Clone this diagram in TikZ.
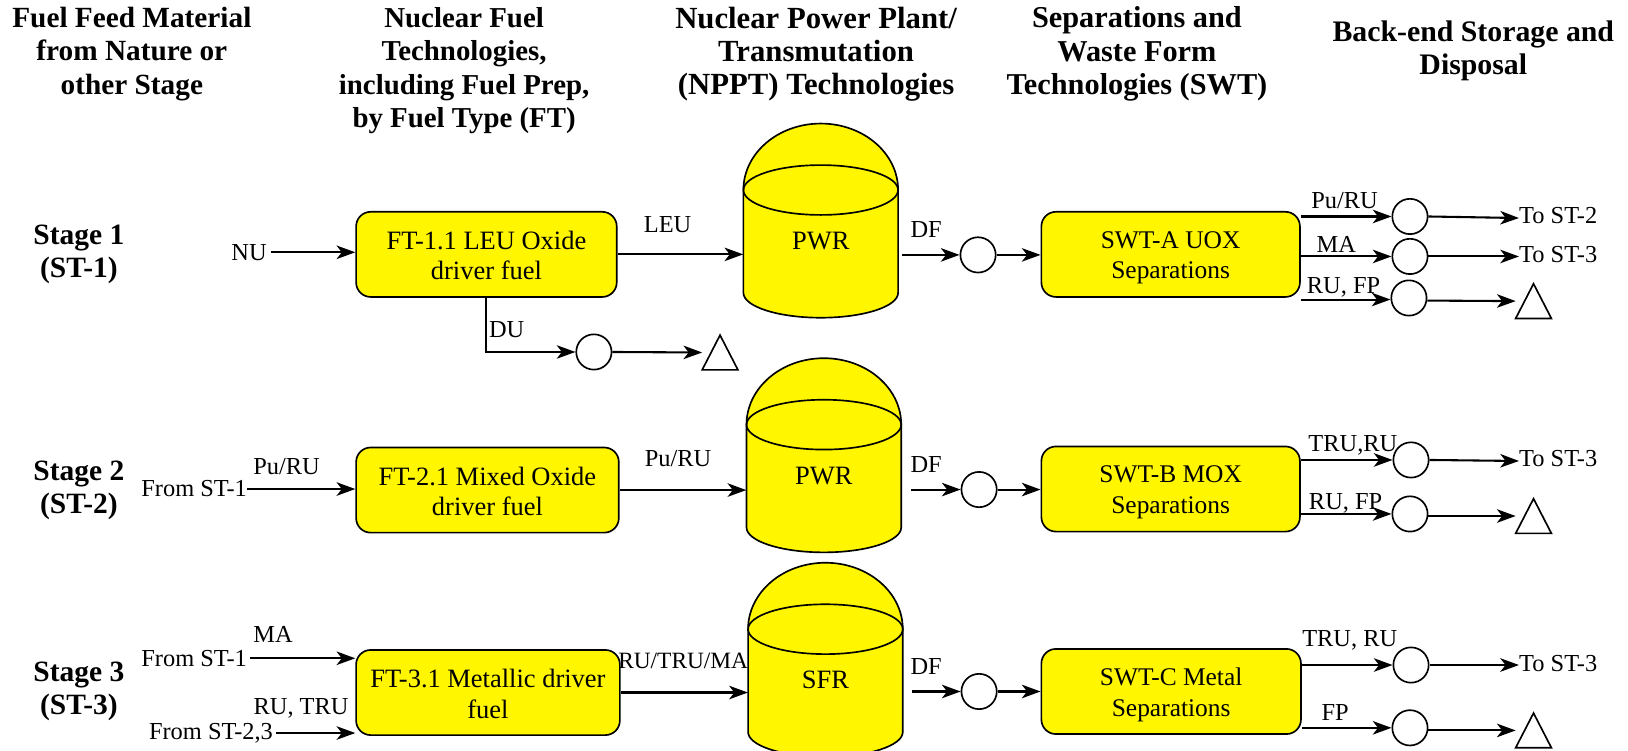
\documentclass[tikz,border=0pt]{standalone}
\usepackage{fontspec}
\setmainfont{Liberation Serif}
\usetikzlibrary{arrows.meta}
\definecolor{fuel}{HTML}{FFF600}
\newcommand{\upa}{\rule{0pt}{20pt}}
\newcommand{\upb}{\rule{0pt}{23pt}}
\tikzset{
  lab/.style={inner sep=0pt,font=\fontsize{23.5}{26}\selectfont},
  head/.style={inner sep=0pt,align=center,font=\fontsize{#1}{32}\selectfont\bfseries},
  head/.default=27.8,
  fbox/.style={draw=black,line width=1.6pt,fill=fuel,rounded corners=14pt,inner sep=0pt,align=center,font=\fontsize{25.5}{29.5}\selectfont},
  wbox/.style={fbox,font=\fontsize{24.5}{29.5}\selectfont},
  cir/.style={circle,draw=black,line width=1.6pt,fill=white,minimum size=34pt,inner sep=0pt},
  arr/.style={draw=black,line width=2pt,-{Stealth[length=18pt,width=13pt,inset=5pt]}},
  trispot/.style={minimum width=34pt,minimum height=33pt,inner sep=0pt},
  tankspot/.style={minimum width=149pt,minimum height=187pt,inner sep=0pt}
}
\newcommand{\tanknode}[4]{%
  \node[tankspot] (#1) at (#2,#3+93.5) {};
  \path[fill=fuel,draw=black,line width=1.6pt] (#2-74.5,#3+64) arc[start angle=180,end angle=0,x radius=74.5pt,y radius=64pt]
    -- (#2+74.5,#3+163) arc[start angle=0,end angle=-180,x radius=74.5pt,y radius=24pt] -- cycle;
  \draw[line width=1.6pt] (#2,#3+64) ellipse[x radius=74.5pt,y radius=24pt];
  \node[inner sep=0pt,font=\fontsize{25.5}{30}\selectfont] (#1txt) at (#2,#3+113) {#4};
}
\newcommand{\trinode}[3]{%
  \node[trispot] (#1) at (#2,#3) {};
  \draw[line width=1.6pt,line join=miter] (#1.north) -- (#1.south east) -- (#1.south west) -- cycle;
}
\begin{document}
\begin{tikzpicture}[x=1pt,y=-1pt]
\useasboundingbox (0,0) rectangle (1568,723);
\clip (0,0) rectangle (1568,723);
% headers
\node[head=28.2] (h1) at (127,52) {Fuel Feed Material\\from Nature or\\other Stage};
\node[head] (h2) at (447,68) {Nuclear Fuel\\Technologies,\\including Fuel Prep,\\by Fuel Type (FT)};
\node[head=29.6] (h3) at (786,52) {Nuclear Power Plant/\\Transmutation\\(NPPT) Technologies};
\node[head=29.2] (h4) at (1095,52) {Separations and\\Waste Form\\Technologies (SWT)};
\node[head=28.7] (h5) at (1419,49) {Back-end Storage and\\Disposal};
\node[head=28.4] (s1) at (76,245) {Stage 1\\(ST-1)};
\node[head=28.4] (s2) at (76,472) {Stage 2\\(ST-2)};
\node[head=28.4] (s3) at (76,666) {Stage 3\\(ST-3)};
% fuel boxes
\node[fbox,minimum width=251pt,minimum height=82pt] (b1) at (468.5,245) {\upa FT-1.1 LEU Oxide\\driver fuel};
\node[fbox,minimum width=253pt,minimum height=82pt] (b2) at (469.5,472) {\upa FT-2.1 Mixed Oxide\\driver fuel};
\node[fbox,minimum width=254pt,minimum height=82pt] (b3) at (470,667) {\upa FT-3.1 Metallic driver\\fuel};
% tanks
\tanknode{t1}{790.5}{119}{PWR}
\tanknode{t2}{793.5}{345}{PWR}
\tanknode{t3}{795}{542}{SFR}
% separations
\node[wbox,minimum width=249pt,minimum height=82pt] (w1) at (1127.5,245) {\upb SWT-A UOX\\Separations};
\node[wbox,minimum width=249pt,minimum height=82pt] (w2) at (1127.5,471) {\upb SWT-B MOX\\Separations};
\node[wbox,minimum width=250pt,minimum height=82pt] (w3) at (1128,666) {\upb SWT-C Metal\\Separations};
% circles
\node[cir] (d1) at (942,245.5) {};
\node[cir] (d2) at (943,471.5) {};
\node[cir] (d3) at (943,666) {};
\node[cir] (du) at (572,339) {};
\node[cir] (c1) at (1358,208.5) {};
\node[cir] (c2) at (1358,247) {};
\node[cir] (c3) at (1357,287) {};
\node[cir] (c4) at (1359,443) {};
\node[cir] (c5) at (1358,495) {};
\node[cir] (c6) at (1359,640.5) {};
\node[cir] (c7) at (1358,701) {};
% triangles
\trinode{g0}{693.5}{339.5}
\trinode{g1}{1477}{290}
\trinode{g2}{1477}{497}
\trinode{g3}{1477}{703.5}
% text ends
\node[lab,anchor=east] (nu) at (257,243) {NU};
\node[lab,anchor=east] (f1) at (238,471) {From ST-1};
\node[lab,anchor=east] (f2) at (238,634) {From ST-1};
\node[lab,anchor=east] (f3) at (263,706) {From ST-2,3};
\node[lab,anchor=west] (o1) at (1463,208) {To ST-2};
\node[lab,anchor=west] (o2) at (1463,245) {To ST-3};
\node[lab,anchor=west] (o3) at (1463,442) {To ST-3};
\node[lab,anchor=west] (o4) at (1463,639) {To ST-3};
% connector labels
\node[lab] (l1) at (643,216) {LEU};
\node[lab] (l2) at (892,221) {DF};
\node[lab] (l3) at (488,317) {DU};
\node[lab] (l4) at (1295,193) {Pu/RU};
\node[lab] (l5) at (1287,235) {MA};
\node[lab] (l6) at (1294,277) {RU, FP};
\node[lab] (l7) at (276,449) {Pu/RU};
\node[lab] (l8) at (653,442) {Pu/RU};
\node[lab] (l9) at (892,447) {DF};
\node[lab] (l10) at (1303,428.5) {TRU,RU};
\node[lab] (l11) at (1296,484.5) {RU, FP};
\node[lab] (l12) at (263,611) {MA};
\node[lab] (l13) at (290,682) {RU, TRU};
\node[lab,font=\fontsize{22.5}{26}\selectfont] (l14) at (658,637) {RU/TRU/MA};
\node[lab] (l15) at (892,642) {DF};
\node[lab] (l16) at (1300,617) {TRU, RU};
\node[lab] (l17) at (1286,686.5) {FP};
% connectors stage 1
\draw[arr] ([xshift=4pt]nu.east) -- (nu.east -| b1.west);
\draw[arr] (b1.east) -- (b1.east -| t1.west);
\draw[arr] ([xshift=4pt]d1.west -| t1.east) -- (d1.west);
\draw[arr] (d1.east) -- (d1.east -| w1.west);
\draw[arr] (c1.west -| w1.east) -- (c1.west);
\draw[arr] (c2.west -| w1.east) -- (c2.west);
\draw[arr] ([yshift=-1.5pt]c3.west -| w1.east) -- ([yshift=-1.5pt]c3.west);
\draw[arr] (c1.east) -- ([yshift=-2pt]o1.west);
\draw[arr] (c2.east) -- (c2.east -| o2.west);
\draw[arr] ([yshift=-2.5pt]c3.east) -- (g1.west);
\draw[arr] (b1.south) |- (du.west);
\draw[arr] (du.east) -- (g0.west);
% stage 2
\draw[arr] (f1.east) -- (f1.east -| b2.west);
\draw[arr] (b2.east) -- (b2.east -| t2.west);
\draw[arr] ([xshift=9pt]d2.west -| t2.east) -- (d2.west);
\draw[arr] (d2.east) -- (d2.east -| w2.west);
\draw[arr] (c4.west -| w2.east) -- (c4.west);
\draw[arr] (c5.west -| w2.east) -- (c5.west);
\draw[arr] (c4.east) -- ([yshift=-2pt]o3.west);
\draw[arr] ([yshift=-2pt]c5.east) -- (g2.west);
% stage 3
\draw[arr] ([xshift=3pt]f2.east) -- (f2.east -| b3.west);
\draw[arr] ([xshift=3pt]f3.east) -- (f3.east -| b3.west);
\draw[arr] (b3.east) -- (b3.east -| t3.west);
\draw[arr] ([xshift=9pt]d3.west -| t3.east) -- (d3.west);
\draw[arr] (d3.east) -- (w3.west);
\draw[arr] (c6.west -| w3.east) -- (c6.west);
\draw[arr] (c7.west -| w3.east) -- (c7.west);
\draw[arr] (c6.east) -- (c6.east -| o4.west);
\draw[arr] ([yshift=-2.5pt]c7.east) -- (g3.west);
\end{tikzpicture}
\end{document}
